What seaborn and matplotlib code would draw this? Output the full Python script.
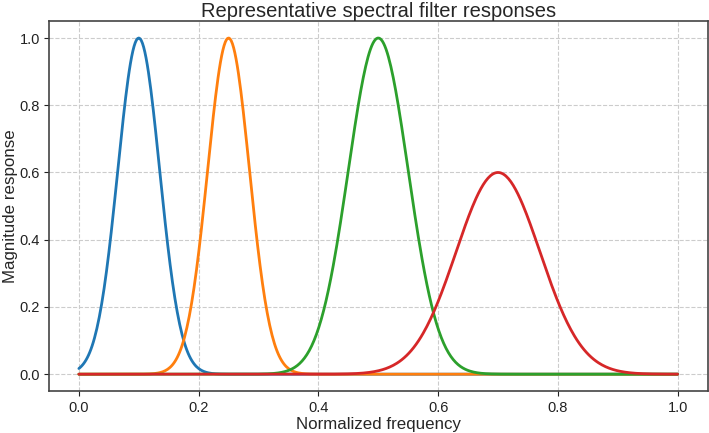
import numpy as np
import pandas as pd
import matplotlib
matplotlib.use("Agg")
import matplotlib.pyplot as plt
import seaborn as sns

# Filter parameters (Gaussian-shaped responses)
filter_names = ["f1", "f2", "f3", "f4"]
centers = [0.10, 0.25, 0.50, 0.70]
widths = [0.035, 0.035, 0.05, 0.07]
peaks = [1.0, 1.0, 1.0, 0.6]
colors = ["#1f77b4", "#ff7f0e", "#2ca02c", "#d62728"]

freq = np.linspace(0, 1, 500)
rows = []
for name, c, w, p in zip(filter_names, centers, widths, peaks):
    resp = p * np.exp(-0.5 * ((freq - c) / w) ** 2)
    rows.append(pd.DataFrame({"freq": freq, "resp": resp, "filter": name}))
df = pd.concat(rows, ignore_index=True)

sns.set_style("ticks")
plt.rcParams["font.family"] = ["Liberation Sans", "DejaVu Sans"]

fig, ax = plt.subplots(figsize=(7.09, 4.33), dpi=100)
sns.lineplot(data=df, x="freq", y="resp", hue="filter", palette=colors,
             linewidth=2, legend=False, ax=ax)

ax.grid(True, linestyle="--", color="#cccccc", linewidth=0.8)
ax.set_axisbelow(True)
for s in ax.spines.values():
    s.set_color("#444444")
    s.set_linewidth(1.2)
ax.tick_params(colors="#222222", labelsize=10.5)
ax.tick_params(axis="y", pad=3)
ax.set_xlabel("Normalized frequency", fontsize=12.2, labelpad=2)
ax.set_ylabel("Magnitude response", fontsize=12.2, labelpad=1)
ax.set_title("Representative spectral filter responses", fontsize=14.5, pad=3)
ax.set_xticks([0, 0.2, 0.4, 0.6, 0.8, 1.0])
ax.set_yticks([0, 0.2, 0.4, 0.6, 0.8, 1.0])

fig.subplots_adjust(left=0.069, right=0.998, top=0.951, bottom=0.097)
fig.savefig("out.png", dpi=100)
